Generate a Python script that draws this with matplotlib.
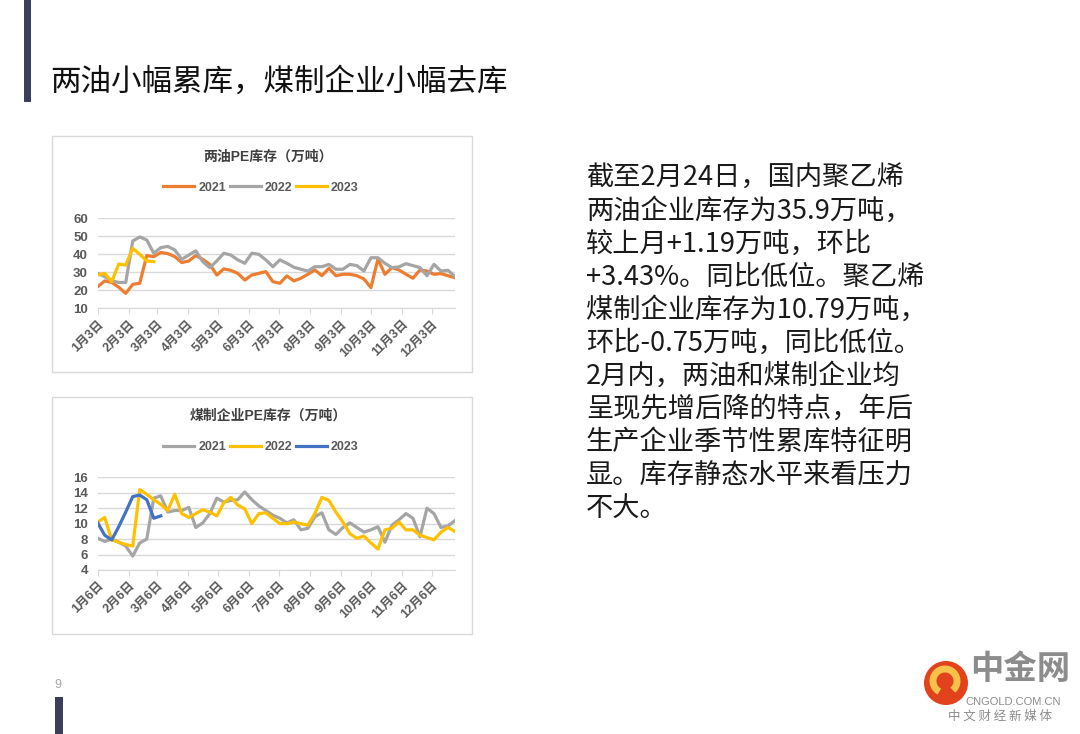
import numpy as np
import matplotlib
matplotlib.use("Agg")
import matplotlib.pyplot as plt
from matplotlib.patches import Rectangle, Ellipse, Arc

plt.rcParams['font.family'] = ['Liberation Sans', 'Noto Sans CJK SC', 'DejaVu Sans']

# ---- data (weekly) ----
years_oil = ["2021", "2022", "2023"]
oil_2021 = [22, 25.2, 24.4, 21.7, 18.3, 23.3, 23.9, 39.3, 38.7, 41, 40.4, 38.7, 35.4,
            36.3, 39.3, 37.2, 34.4, 28.5, 31.9, 31.1, 29.4, 25.7, 28.5, 29.4, 30.4, 24.8,
            23.9, 28, 25.2, 26.7, 28.9, 31.3, 28.1, 32.2, 28.1, 28.9, 28.9, 28.1, 26.3,
            21.5, 37.4, 28.9, 32.6, 31.3, 28.9, 26.7, 31.3, 30.7, 28.9, 29.3, 28.1, 27]
oil_2022 = [29.4, 27.6, 25.2, 24.4, 24.3, 47.4, 49.6, 48, 40.6, 43.7, 44.4, 42.4, 37.2,
            39.6, 41.9, 35.9, 32.6, 36.3, 40.6, 39.6, 36.9, 35, 40.6, 40, 36.9, 33.1,
            36.9, 35, 32.8, 31.7, 30.7, 33.1, 33.1, 34.4, 31.7, 31.7, 34.4, 33.7, 30.7,
            38.1, 38.1, 35, 32.6, 33, 34.8, 33.7, 32.6, 28.1, 34.4, 30.7, 31.1, 27.6]
oil_2023 = [28.5, 29.4, 24.8, 34.6, 34, 43.3, 40, 36.3, 35.9]

coal_2021 = [8.1, 7.7, 8, 7.6, 7.1, 5.8, 7.5, 8, 13.3, 13.6, 11.5, 11.7, 11.7, 12.1, 9.5,
             10.1, 11.3, 13.3, 12.8, 13, 13.1, 14.1, 13.1, 12.3, 11.7, 11.1, 10.7, 10.1,
             10.5, 9.2, 9.4, 10.9, 11.4, 9.2, 8.6, 9.5, 10.1, 9.5, 8.9, 9.2, 9.6, 7.6,
             9.8, 10.5, 11.3, 10.7, 8.3, 12, 11.3, 9.5, 9.7, 10.4]
coal_2022 = [10.2, 10.8, 7.9, 7.6, 7.3, 7.1, 14.4, 13.8, 13.1, 12.5, 11.7, 13.8, 11.3,
             10.8, 11.3, 11.8, 11.5, 11, 12.7, 13.4, 12.4, 11.9, 10, 11.3, 11.4, 10.7,
             10, 10, 10.2, 10, 9.8, 11.3, 13.4, 13, 11.5, 10.2, 8.7, 8.1, 8.4, 7.5, 6.7,
             9.2, 9.4, 10.2, 9.2, 9.2, 8.5, 8.2, 7.9, 8.9, 9.5, 9]
coal_2023 = [10.1, 8.5, 7.9, 9.6, 11.5, 13.5, 13.7, 13.1, 10.7, 11.0]

oil_ticks = ["1月3日", "2月3日", "3月3日", "4月3日", "5月3日", "6月3日",
             "7月3日", "8月3日", "9月3日", "10月3日", "11月3日", "12月3日"]
coal_ticks = ["1月6日", "2月6日", "3月6日", "4月6日", "5月6日", "6月6日",
              "7月6日", "8月6日", "9月6日", "10月6日", "11月6日", "12月6日"]

title = "两油小幅累库，煤制企业小幅去库"
body = ["截至2月24日，国内聚乙烯",
        "两油企业库存为35.9万吨，",
        "较上月+1.19万吨，环比",
        "+3.43%。同比低位。聚乙烯",
        "煤制企业库存为10.79万吨，",
        "环比-0.75万吨，同比低位。",
        "2月内，两油和煤制企业均",
        "呈现先增后降的特点，年后",
        "生产企业季节性累库特征明",
        "显。库存静态水平来看压力",
        "不大。"]

# month tick offsets in days from the first weekly point
months = np.arange('2021-01', '2022-01', dtype='datetime64[M]').astype('datetime64[D]')
tick_days = (months - months[0]).astype(int)

W, H = 1080, 734
fig = plt.figure(figsize=(W / 100, H / 100), dpi=100)
fig.patch.set_facecolor('white')


def fx(px):
    return px / W


def fy(py):
    return 1 - py / H


def chart(box, ax_rect, series, colors, labels, ylim, yticks, ticklabels, ttl, title_y, leg_y):
    x0, y0, x1, y1 = box
    fig.patches.append(Rectangle((fx(x0), fy(y1)), fx(x1 - x0), (y1 - y0) / H,
                                 transform=fig.transFigure, fill=False,
                                 edgecolor='#d9d9d9', lw=1.0))
    l, t, r, b = ax_rect
    ax = fig.add_axes([fx(l), fy(b), fx(r - l), (b - t) / H])
    for vals, c, lab in zip(series, colors, labels):
        days = np.arange(len(vals)) * 7
        ax.plot(days, vals, color=c, lw=2.3, label=lab, solid_joinstyle='round')
    ax.set_xlim(0, 51 * 7)
    ax.set_ylim(*ylim)
    ax.set_yticks(yticks)
    ax.yaxis.grid(True, color='#d9d9d9', lw=1.0)
    ax.set_axisbelow(True)
    for s in ['top', 'right', 'left']:
        ax.spines[s].set_visible(False)
    ax.spines['bottom'].set_color('#d9d9d9')
    ax.set_xticks(tick_days)
    ax.set_xticklabels(ticklabels, rotation=45, ha='right', rotation_mode='anchor',
                       fontsize=9, fontweight='bold', color='#595959')
    ax.tick_params(axis='x', length=4, color='#d9d9d9', pad=3)
    ax.tick_params(axis='y', length=0, pad=7, labelsize=9.5, labelcolor='#595959')
    for lb in ax.get_yticklabels():
        lb.set_fontweight('bold')
    fig.text(fx((x0 + x1) / 2 + 6), fy(title_y), ttl, ha='center', va='center',
             fontsize=10, fontweight='bold', color='#404040')
    ax.legend(loc='center', bbox_to_anchor=(fx(261), fy(leg_y)),
              bbox_transform=fig.transFigure, ncol=3, frameon=False,
              handlelength=2.5, handletextpad=0.3, columnspacing=0.3,
              prop={'size': 9, 'weight': 'bold'}, labelcolor='#595959')
    return ax


chart((52, 136, 472, 372), (97.7, 218.3, 455, 308.3),
      [oil_2021, oil_2022, oil_2023], ['#ED7D31', '#A5A5A5', '#FFC000'], years_oil,
      (10, 60), range(10, 61, 10), oil_ticks, "两油PE库存（万吨）", 156.5, 187.5)

chart((52, 397, 472, 634), (97.7, 477.3, 455, 570),
      [coal_2021, coal_2022, coal_2023], ['#A5A5A5', '#FFC000', '#4472C4'], years_oil,
      (4, 16), range(4, 17, 2), coal_ticks, "煤制企业PE库存（万吨）", 415.5, 447.3)

# slide decorations
fig.patches.append(Rectangle((fx(24), fy(102)), fx(7), 102 / H, transform=fig.transFigure,
                             color='#3b3f5c', lw=0))
fig.patches.append(Rectangle((fx(54.5), fy(734)), fx(8), 37 / H, transform=fig.transFigure,
                             color='#3b3f5c', lw=0))
fig.text(fx(58), fy(685), "9", ha='center', va='center', fontsize=9, color='#a6a6a6')

fig.text(fx(50), fy(82), title, ha='left', va='center', fontsize=22,
         family=['Noto Sans CJK SC', 'DejaVu Sans'], color='#111111')

for i, line in enumerate(body):
    fig.text(fx(586), fy(178 + 33 * i), line, ha='left', va='center', fontsize=19.6,
             family=['Noto Sans CJK SC', 'DejaVu Sans'], color='#1a1a1a')

# watermark logo
fig.patches.append(Ellipse((fx(946), fy(683)), fx(44), 44 / H, transform=fig.transFigure,
                           color='#e2431d', lw=0))
fig.patches.append(Arc((fx(945), fy(681)), fx(24), 24 / H, theta1=-60, theta2=250,
                       transform=fig.transFigure, color='#f7c24a', lw=5))
fig.text(fx(1020), fy(669), "中金网", ha='center', va='center', fontsize=24, fontweight='bold',
         family=['Noto Sans CJK SC', 'DejaVu Sans'], color='#8c8c8c')
fig.text(fx(1013), fy(702), "CNGOLD.COM.CN", ha='center', va='center', fontsize=8,
         color='#8c8c8c')
fig.text(fx(1000), fy(716), "中 文 财 经 新 媒 体", ha='center', va='center', fontsize=9,
         family=['Noto Sans CJK SC', 'DejaVu Sans'], color='#8c8c8c')

fig.savefig("out.png", dpi=100)
